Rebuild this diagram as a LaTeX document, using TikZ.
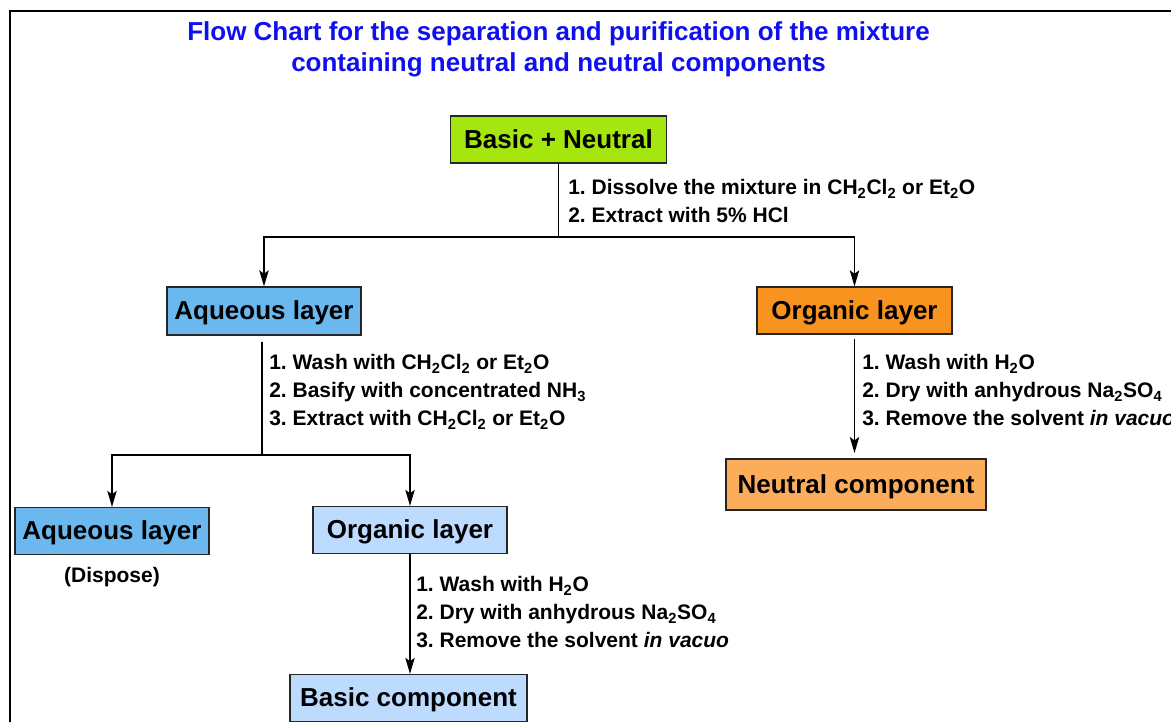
\documentclass[tikz,border=0pt]{standalone}
\usepackage{fontspec}
\setmainfont{Liberation Sans}
\usetikzlibrary{arrows.meta}
\frenchspacing

\definecolor{mixgreen}{HTML}{A6E60F}
\definecolor{aqblue}{HTML}{6BB8EF}
\definecolor{orglight}{HTML}{BDDAFF}
\definecolor{orgorange}{HTML}{F7931E}
\definecolor{neutorange}{HTML}{FBAD5B}
\definecolor{titleblue}{HTML}{1010EE}

\newcommand{\chsub}[1]{\textsubscript{#1}}
\newcommand{\boxfont}{\fontsize{19.5pt}{23pt}\selectfont\bfseries}
\newcommand{\stepfont}{\fontsize{15.75pt}{21pt}\selectfont\bfseries}
\newcommand{\titlefont}{\fontsize{19.5pt}{23.25pt}\selectfont\bfseries}

\tikzset{
  layerbox/.style={draw=black!85, line width=0.9pt, fill=#1, minimum height=35.25pt, inner sep=0pt,
    text height=13pt, text depth=0pt, font=\boxfont},
  flowline/.style={line width=1.3pt},
  flowarrow/.style={flowline, -{Stealth[length=12pt,width=7pt,inset=2.5pt]}},
  steptext/.style={anchor=base west, inner sep=0pt, font=\stepfont},
}

\begin{document}
\begin{tikzpicture}[x=0.75pt,y=-0.75pt]
	\useasboundingbox (0,0) rectangle (1171,722);
	\draw[line width=2.2pt] (10,722) -- (10,11) -- (1171,11);

	% title
	\node[anchor=base, inner sep=0pt, font=\titlefont, text=titleblue] (title) at (558.5,40.5)
	    {\begin{tabular}[t]{@{}c@{}}Flow Chart for the separation and purification of the mixture\\containing neutral and neutral components\end{tabular}};

	% boxes
	\node[layerbox=mixgreen, minimum width=162pt] (mix) at (558.5,139.5) {Basic + Neutral};
	\node[layerbox=aqblue, minimum width=145.5pt, minimum height=36pt] (aq1) at (264,311) {Aqueous layer};
	\node[layerbox=orgorange, minimum width=146.25pt] (org1) at (854.5,310.5) {Organic layer};
	\node[layerbox=aqblue, minimum width=145.5pt] (aq2) at (112,531) {Aqueous layer};
	\node[layerbox=orglight, minimum width=145.5pt] (org2) at (410,530) {Organic layer};
	\node[layerbox=orglight, minimum width=177.75pt] (basic) at (408.5,698) {Basic component};
	\node[layerbox=neutorange, minimum width=195pt, minimum height=38.25pt] (neutral) at (856,484.5) {Neutral component};

	\node[inner sep=0pt, font=\stepfont] (dispose) at (112,577) {(Dispose)};

	% step texts
	\node[steptext] (steps1) at (568,194.5)
	    {\begin{tabular}[t]{@{}l@{}}1. Dissolve the mixture in CH\chsub{2}Cl\chsub{2} or Et\chsub{2}O\\2. Extract with 5\% HCl\end{tabular}};
	\node[steptext] (steps2) at (269,369.5)
	    {\begin{tabular}[t]{@{}l@{}}1. Wash with CH\chsub{2}Cl\chsub{2} or Et\chsub{2}O\\2. Basify with concentrated NH\chsub{3}\\3. Extract with CH\chsub{2}Cl\chsub{2} or Et\chsub{2}O\end{tabular}};
	\node[steptext] (steps3) at (862,369.5)
	    {\begin{tabular}[t]{@{}l@{}}1. Wash with H\chsub{2}O\\2. Dry with anhydrous Na\chsub{2}SO\chsub{4}\\3. Remove the solvent \textit{in vacuo}\end{tabular}};
	\node[steptext] (steps4) at (416,591.5)
	    {\begin{tabular}[t]{@{}l@{}}1. Wash with H\chsub{2}O\\2. Dry with anhydrous Na\chsub{2}SO\chsub{4}\\3. Remove the solvent \textit{in vacuo}\end{tabular}};

	% connectors
	\coordinate (split1) at (558.5,237);
	\coordinate (split2) at (262,455);
	\draw[flowline] (mix) -- (split1);
	\draw[flowarrow] (split1) -| (aq1.north);
	\draw[flowarrow] (split1) -| (org1.north);
	\draw[flowline, shorten <=5pt] (aq1.south -| split2) -- (split2);
	\draw[flowarrow] (split2) -| (aq2.north);
	\draw[flowarrow] (split2) -| (org2.north);
	\draw[flowarrow, shorten <=3pt, shorten >=4pt] (org1) -- (org1 |- neutral.north);
	\draw[flowarrow] (org2) -- (org2 |- basic.north);
\end{tikzpicture}
\end{document}
